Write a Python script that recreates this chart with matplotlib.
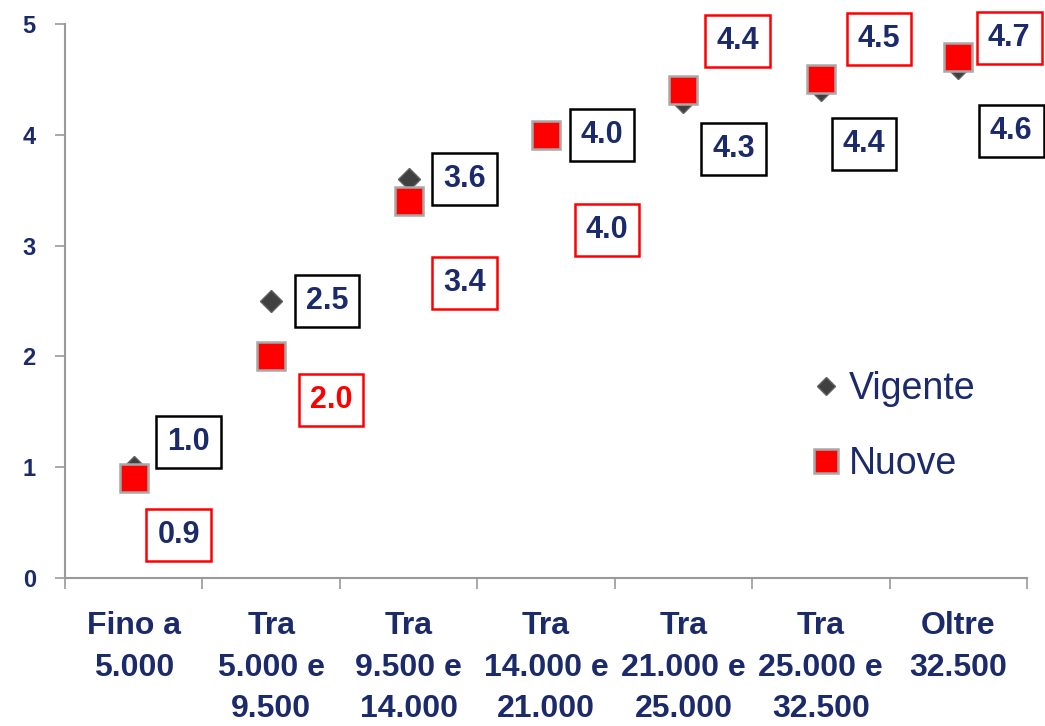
import matplotlib
matplotlib.use("Agg")
import matplotlib.pyplot as plt
import numpy as np

categories = ["Fino a\n5.000", "Tra\n5.000 e\n9.500", "Tra\n9.500 e\n14.000",
              "Tra\n14.000 e\n21.000", "Tra\n21.000 e\n25.000", "Tra\n25.000 e\n32.500",
              "Oltre\n32.500"]
vigente = [1.0, 2.5, 3.6, 4.0, 4.3, 4.4, 4.6]
nuove = [0.9, 2.0, 3.4, 4.0, 4.4, 4.5, 4.7]
yticks = [0, 1, 2, 3, 4, 5]

NAVY = "#1B2A6B"
plt.rcParams['font.family'] = ['Liberation Sans', 'DejaVu Sans']

# label offsets in pixels (dx, dy; dy positive = up)
vig_off = [(55, 25), (56, 0), (56, 0), (56, 0), (50, -47), (43, -54), (53, -63)]
nuo_off = [(45, -57), (60, -44), (56, -82), (61, -95), (54, 49), (58, 40), (51, 19)]
nuo_txtcol = [NAVY, "#FF0000", NAVY, NAVY, NAVY, NAVY, NAVY]

fig = plt.figure(figsize=(10.45, 7.26), dpi=100)
ax = fig.add_axes([65/1045, (726-578)/726, (1027-65)/1045, (578-24)/726])

x = np.arange(len(categories))
ax.plot(x, vigente, linestyle='none', marker='D', markersize=11,
        color='#404040', markeredgecolor='#606060', markeredgewidth=1, label='Vigente', zorder=3)
ax.plot(x, nuove, linestyle='none', marker='s', markersize=20,
        color='#FF0000', markeredgecolor='#A8A8A8', markeredgewidth=1.8, label='Nuove', zorder=4)

for i in range(len(x)):
    ax.annotate(f"{vigente[i]:.1f}", (x[i], vigente[i]), xytext=vig_off[i],
                textcoords='offset pixels', ha='center', va='center',
                fontsize=22, fontweight='bold', color=NAVY,
                bbox=dict(boxstyle='square,pad=0.36', fc='white', ec='black', lw=1.8), zorder=5)
    ax.annotate(f"{nuove[i]:.1f}", (x[i], nuove[i]), xytext=nuo_off[i],
                textcoords='offset pixels', ha='center', va='center',
                fontsize=22, fontweight='bold', color=nuo_txtcol[i],
                bbox=dict(boxstyle='square,pad=0.36', fc='white', ec='#FF0000', lw=1.8), zorder=5)

ax.set_xlim(-0.5, len(categories) - 0.5)
ax.set_ylim(0, 5)
ax.set_yticks(yticks)
ax.set_yticklabels([str(v) for v in yticks], fontsize=17, fontweight='bold', color=NAVY)
ax.set_xticks(x)
ax.set_xticklabels(categories, fontsize=23, fontweight='bold', color=NAVY, linespacing=1.5)
ax.set_xticks(np.arange(-0.5, len(categories)), minor=True)
ax.tick_params(axis='x', which='major', length=0, pad=24)
ax.tick_params(axis='x', which='minor', length=8, color='#999999', width=1.2)
ax.tick_params(axis='y', length=7, color='#999999', width=1.2, pad=14)
for s in ['top', 'right']:
    ax.spines[s].set_visible(False)
for s in ['left', 'bottom']:
    ax.spines[s].set_color('#999999')
    ax.spines[s].set_linewidth(1.5)

leg = ax.legend(loc='upper left', bbox_to_anchor=(0.735, 0.435), frameon=False,
                fontsize=27, labelspacing=1.05, handletextpad=0.05, handlelength=1.1,
                markerscale=0.85)
for t in leg.get_texts():
    t.set_color(NAVY)

fig.savefig("out.png", dpi=100)
